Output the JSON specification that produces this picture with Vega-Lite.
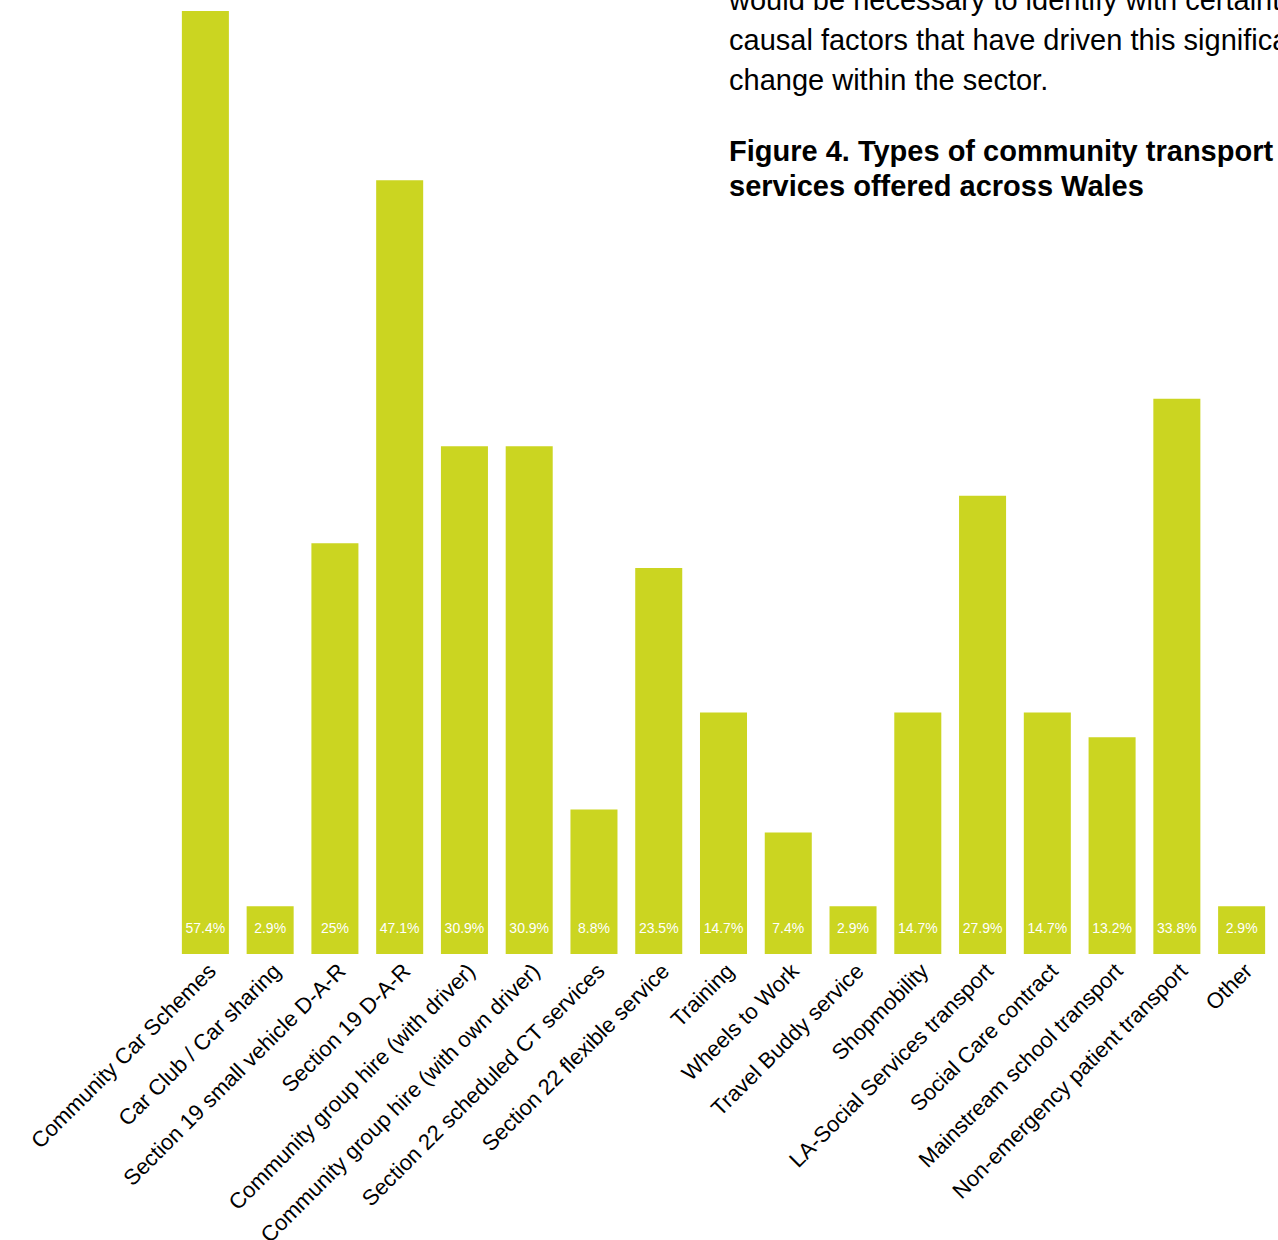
{
  "$schema": "https://vega.github.io/schema/vega-lite/v6.json",
  "autosize": {"type": "none"},
  "width": 1101,
  "height": 943,
  "padding": {"left": 173, "top": 11, "right": 4, "bottom": 286},
  "background": "white",
  "title": {
    "text": ["would be necessary to identify with certainty the", "causal factors that have driven this significant", "change within the sector."],
    "subtitle": ["Figure 4. Types of community transport", "services offered across Wales"],
    "anchor": "start",
    "frame": "group",
    "orient": "top",
    "dx": 556,
    "dy": 191,
    "offset": 0,
    "font": "Liberation Sans",
    "fontSize": 29,
    "fontWeight": "normal",
    "color": "#000000",
    "lineHeight": 40,
    "subtitleFont": "Liberation Sans",
    "subtitleFontSize": 29,
    "subtitleFontWeight": "bold",
    "subtitleColor": "#000000",
    "subtitleLineHeight": 35,
    "subtitlePadding": 42
  },
  "data": {
    "values": [
      {"service": "Community Car Schemes", "share": 0.574},
      {"service": "Car Club / Car sharing", "share": 0.029},
      {"service": "Section 19 small vehicle D-A-R", "share": 0.25},
      {"service": "Section 19 D-A-R", "share": 0.471},
      {"service": "Community group hire (with driver)", "share": 0.309},
      {"service": "Community group hire (with own driver)", "share": 0.309},
      {"service": "Section 22 scheduled CT services", "share": 0.088},
      {"service": "Section 22 flexible service", "share": 0.235},
      {"service": "Training", "share": 0.147},
      {"service": "Wheels to Work", "share": 0.074},
      {"service": "Travel Buddy service", "share": 0.029},
      {"service": "Shopmobility", "share": 0.147},
      {"service": "LA-Social Services transport", "share": 0.279},
      {"service": "Social Care contract", "share": 0.147},
      {"service": "Mainstream school transport", "share": 0.132},
      {"service": "Non-emergency patient transport", "share": 0.338},
      {"service": "Other", "share": 0.029}
    ]
  },
  "encoding": {
    "x": {
      "field": "service",
      "type": "nominal",
      "sort": null,
      "scale": {"paddingInner": 0.274, "paddingOuter": 0.137},
      "axis": {
        "title": null,
        "labelAngle": -45,
        "labelFont": "Liberation Sans",
        "labelFontSize": 22,
        "labelColor": "#000000",
        "labelLimit": 0,
        "labelPadding": 6,
        "ticks": false,
        "domain": false,
        "grid": false
      }
    }
  },
  "layer": [
    {
      "mark": {"type": "bar", "color": "#cbd521"},
      "encoding": {
        "y": {
          "field": "share",
          "type": "quantitative",
          "scale": {"domain": [0, 0.574], "nice": false},
          "axis": null
        }
      }
    },
    {
      "mark": {"type": "text", "color": "#ffffff", "font": "Liberation Sans", "fontSize": 14, "baseline": "middle", "dy": -25},
      "encoding": {
        "y": {"datum": 0, "type": "quantitative"},
        "text": {"field": "share", "type": "quantitative", "format": ".1~%"}
      }
    }
  ],
  "config": {
    "view": {"stroke": null}
  }
}
